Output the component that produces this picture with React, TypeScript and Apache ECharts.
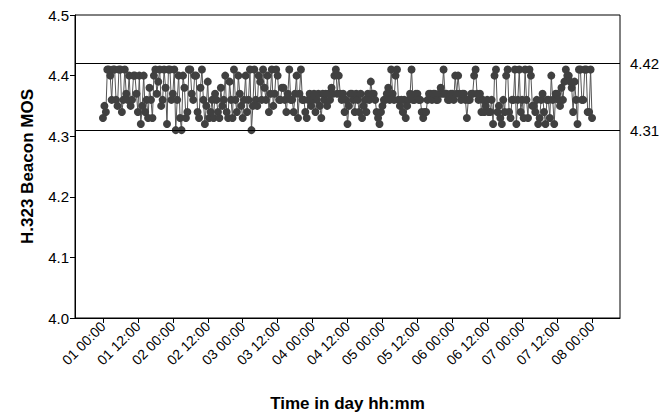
import React, { useEffect, useRef } from "react";
import * as echarts from "echarts";

// one sample every 30 minutes, starting at "01 00:00"
const mosValues: number[] = [
  4.33, 4.35, 4.34, 4.41, 4.41, 4.40, 4.36, 4.41, 4.41, 4.36,
  4.35, 4.41, 4.41, 4.34, 4.36, 4.41, 4.37, 4.36, 4.40, 4.35,
  4.36, 4.40, 4.40, 4.37, 4.34, 4.40, 4.32, 4.35, 4.40, 4.34,
  4.36, 4.33, 4.38, 4.36, 4.33, 4.40, 4.41, 4.37, 4.39, 4.41,
  4.35, 4.36, 4.41, 4.38, 4.32, 4.41, 4.41, 4.36, 4.37, 4.41,
  4.31, 4.36, 4.40, 4.33, 4.31, 4.40, 4.38, 4.33, 4.34, 4.41,
  4.41, 4.37, 4.36, 4.40, 4.40, 4.34, 4.33, 4.38, 4.41, 4.36,
  4.32, 4.35, 4.39, 4.33, 4.34, 4.36, 4.33, 4.37, 4.36, 4.34,
  4.33, 4.38, 4.35, 4.36, 4.40, 4.34, 4.33, 4.39, 4.36, 4.33,
  4.41, 4.36, 4.34, 4.40, 4.37, 4.35, 4.33, 4.36, 4.40, 4.34,
  4.36, 4.41, 4.31, 4.35, 4.41, 4.36, 4.35, 4.40, 4.39, 4.36,
  4.41, 4.38, 4.36, 4.40, 4.34, 4.37, 4.41, 4.35, 4.37, 4.41,
  4.40, 4.36, 4.36, 4.38, 4.38, 4.36, 4.34, 4.37, 4.41, 4.36,
  4.36, 4.34, 4.37, 4.40, 4.33, 4.37, 4.41, 4.36, 4.36, 4.34,
  4.33, 4.36, 4.37, 4.35, 4.36, 4.37, 4.34, 4.36, 4.37, 4.35,
  4.33, 4.37, 4.36, 4.37, 4.35, 4.37, 4.36, 4.38, 4.37, 4.40,
  4.41, 4.37, 4.40, 4.37, 4.36, 4.37, 4.34, 4.36, 4.32, 4.35,
  4.37, 4.37, 4.36, 4.34, 4.37, 4.36, 4.34, 4.37, 4.33, 4.35,
  4.36, 4.34, 4.37, 4.36, 4.39, 4.37, 4.37, 4.36, 4.34, 4.33,
  4.32, 4.34, 4.35, 4.36, 4.36, 4.37, 4.38, 4.36, 4.41, 4.37,
  4.36, 4.40, 4.41, 4.36, 4.35, 4.36, 4.34, 4.36, 4.33, 4.35,
  4.36, 4.37, 4.41, 4.36, 4.36, 4.37, 4.37, 4.36, 4.36, 4.34,
  4.33, 4.34, 4.34, 4.36, 4.37, 4.37, 4.36, 4.37, 4.37, 4.36,
  4.36, 4.37, 4.38, 4.37, 4.41, 4.37, 4.37, 4.36, 4.36, 4.37,
  4.37, 4.36, 4.40, 4.37, 4.40, 4.37, 4.36, 4.37, 4.37, 4.36,
  4.33, 4.36, 4.36, 4.37, 4.37, 4.40, 4.41, 4.37, 4.36, 4.37,
  4.34, 4.36, 4.34, 4.35, 4.36, 4.34, 4.34, 4.36, 4.32, 4.40,
  4.41, 4.34, 4.35, 4.33, 4.32, 4.36, 4.34, 4.40, 4.41, 4.34,
  4.33, 4.36, 4.36, 4.41, 4.32, 4.36, 4.41, 4.34, 4.36, 4.33,
  4.41, 4.36, 4.33, 4.41, 4.40, 4.35, 4.35, 4.34, 4.36, 4.32,
  4.33, 4.36, 4.37, 4.34, 4.32, 4.36, 4.36, 4.33, 4.40, 4.36,
  4.32, 4.37, 4.37, 4.36, 4.35, 4.38, 4.36, 4.39, 4.41, 4.40,
  4.40, 4.39, 4.38, 4.34, 4.39, 4.36, 4.32, 4.41, 4.41, 4.36,
  4.36, 4.41, 4.41, 4.34, 4.34, 4.41, 4.33,
];

const tickHours: number[] = [0, 12, 24, 36, 48, 60, 72, 84, 96, 108, 120, 132, 144, 156, 168];
const tickLabels: string[] = [
  "01 00:00", "01 12:00", "02 00:00", "02 12:00", "03 00:00", "03 12:00", "04 00:00",
  "04 12:00", "05 00:00", "05 12:00", "06 00:00", "06 12:00", "07 00:00", "07 12:00", "08 00:00",
];
const limitLines: number[] = [4.42, 4.31];

const FONT = "Arial, 'Liberation Sans', sans-serif";

export default function App() {
  const ref = useRef<HTMLDivElement>(null);
  useEffect(() => {
    if (!ref.current) return;
    const chart = echarts.init(ref.current, undefined, { renderer: "svg" });
    const data = mosValues.map((v, i) => [i / 2, v]);
    chart.setOption({
      animation: false,
      backgroundColor: "#ffffff",
      grid: {
        left: 75,
        right: 46,
        top: 15,
        bottom: 89,
        show: true,
        borderColor: "#000",
        borderWidth: 1,
        backgroundColor: "transparent",
      },
      xAxis: {
        type: "value",
        min: -9.6,
        max: 177.6,
        name: "Time in day hh:mm",
        nameLocation: "middle",
        nameGap: 77,
        nameTextStyle: { fontFamily: FONT, fontSize: 17, fontWeight: "bold", color: "#000" },
        axisLine: { show: true, onZero: false, lineStyle: { color: "#000", width: 1 } },
        axisTick: {
          show: true,
          customValues: tickHours,
          length: 5,
          lineStyle: { color: "#000" },
        },
        axisLabel: {
          customValues: tickHours,
          rotate: 45,
          fontFamily: FONT,
          fontSize: 14,
          color: "#000",
          margin: 6,
          formatter: (v: number) => {
            const idx = tickHours.indexOf(Math.round(v));
            return idx >= 0 ? tickLabels[idx] : "";
          },
        },
        splitLine: { show: false },
      },
      yAxis: {
        type: "value",
        min: 4.0,
        max: 4.5,
        interval: 0.1,
        name: "H.323 Beacon MOS",
        nameLocation: "middle",
        nameGap: 39,
        nameTextStyle: { fontFamily: FONT, fontSize: 17, fontWeight: "bold", color: "#000" },
        axisLine: { show: true, onZero: false, lineStyle: { color: "#000", width: 1 } },
        axisTick: { show: true, length: 5, lineStyle: { color: "#000" } },
        axisLabel: {
          fontFamily: FONT,
          fontSize: 15,
          color: "#000",
          margin: 6,
          formatter: (v: number) => v.toFixed(1),
        },
        splitLine: { show: false },
      },
      series: [
        {
          type: "line",
          data,
          symbol: "circle",
          symbolSize: 8,
          showSymbol: true,
          showAllSymbol: true,
          itemStyle: { color: "#404040" },
          lineStyle: { color: "#555555", width: 1 },
          markLine: {
            silent: true,
            symbol: ["none", "none"],
            lineStyle: { color: "#000", type: "solid", width: 1 },
            label: {
              show: true,
              position: "end",
              distance: 10,
              fontFamily: FONT,
              fontSize: 15,
              color: "#000",
              formatter: (p: any) => String(p.value),
            },
            data: limitLines.map((v) => ({ yAxis: v })),
          },
        },
      ],
    });
    return () => chart.dispose();
  }, []);
  return (
    <div
      ref={ref}
      style={{ position: "fixed", left: 0, top: 0, width: 666, height: 417 }}
    />
  );
}
